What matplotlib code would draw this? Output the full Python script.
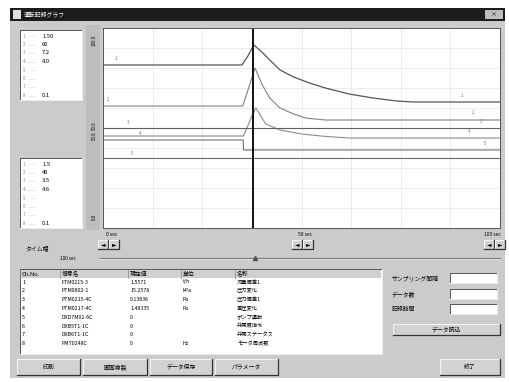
import matplotlib
matplotlib.use("Agg")
import matplotlib.pyplot as plt
from matplotlib.patches import Rectangle

plt.rcParams['font.family'] = ['Noto Sans CJK JP', 'DejaVu Sans']

# ---- chart data (time in sec, value in % of scale) ----
t_a = [0, 35.0, 36.5, 38.0, 40, 42, 44.6, 48, 52, 56, 62, 68, 74, 78, 100]
v_a = [81.5, 81.5, 86, 91.5, 88, 84, 79, 75.5, 72.5, 70, 67, 65, 63.5, 63, 63]
t_b = [0, 35.2, 37.0, 38.3, 40, 42, 44.6, 48, 51, 56, 100]
v_b = [61, 61, 72, 80, 72, 65, 60, 57, 55, 54, 54]
t_c = [0, 35.4, 37.5, 38.5, 41, 44.6, 50, 56, 62, 100]
v_c = [46, 46, 56, 60, 52, 49, 47, 45.8, 45, 45]
t_d = [0, 35.3, 35.4, 100]
v_d = [44, 44, 39, 39]
t_e = [0, 100]
v_e = [50, 50]
t_f = [0, 100]
v_f = [35, 35]
cursor_t = 37.8

# ---- table data ----
ch_no = ["1", "2", "3", "4", "5", "6", "7", "8"]
tags = ["FTM0215-3", "PTM0802-1", "PTM0215-4C", "PTM0217-4C",
        "DXD7M02-6C", "DXB5T1-1C", "DXB6T1-1C", "PMT0248C"]
values = ["1.5571", "15.2578", "0.13836", "1.48335", "0", "0", "0", "0"]
units = ["t/h", "kPa", "Pa", "Pa", "", "", "", "Hz"]
names = ["流量偏差1", "圧力変化", "圧力偏差1", "差圧変化",
         "ポンプ運転", "弁開度指令", "弁開ステータス", "モータ周波数"]
headers = ["Ch.No.", "信号名", "現在値", "単位", "名称"]

scale_up = ["1.50", "60", "7.2", "4.0", "", "", "", "0.1"]
scale_lo = ["1.5", "40", "3.5", "4.6", "", "", "", "0.1"]
buttons = ["印刷", "画面複製", "データ保存", "パラメータ"]

W, H = 510, 382
fig = plt.figure(figsize=(W / 100, H / 100), dpi=100)
bg = fig.add_axes([0, 0, 1, 1])
bg.set_xlim(0, W)
bg.set_ylim(H, 0)
bg.axis('off')

GRAY = '#cbcbcb'
FS = 4.2


def rect(x, y, w, h, fc, ec='none', lw=0.6, z=1):
    bg.add_patch(Rectangle((x, y), w, h, fc=fc, ec=ec, lw=lw, zorder=z))


def sunken(x, y, w, h, fc='white'):
    rect(x, y, w, h, fc, z=2)
    bg.plot([x, x, x + w], [y + h, y, y], color='#555555', lw=0.7, zorder=3)
    bg.plot([x, x + w, x + w], [y + h, y + h, y], color='#f0f0f0', lw=0.7, zorder=3)


def button(x, y, w, h, label):
    rect(x, y, w, h, '#d2d2d2', z=2)
    bg.plot([x, x, x + w], [y + h, y, y], color='#f4f4f4', lw=0.8, zorder=3)
    bg.plot([x, x + w, x + w], [y + h, y + h, y], color='#333333', lw=0.9, zorder=3)
    bg.text(x + w / 2, y + h / 2, label, ha='center', va='center', fontsize=FS, zorder=4)


# window
rect(10, 8, 495, 370, GRAY, z=0)
rect(10, 8, 495, 13, '#1c1c1c', z=1)
rect(13, 10, 8, 9, '#e0e0e0', z=2)
bg.text(24, 14.5, "運転記録グラフ", color='white', fontsize=FS, va='center', zorder=3)
rect(485, 10, 18, 9, '#bdbdbd', z=2)
bg.text(494, 14.5, "×", fontsize=FS, ha='center', va='center', zorder=3)

# left scale panels
for y0, lab in [(30, scale_up), (158, scale_lo)]:
    sunken(20, y0, 62, 70)
    for i, s in enumerate(lab):
        yy = y0 + 6 + i * 8.5
        bg.text(23, yy, str(i + 1), fontsize=3.2, color='#888888', va='center', zorder=4)
        bg.plot([28, 36], [yy, yy], color='#dddddd', lw=0.4, zorder=3)
        bg.text(42, yy, s, fontsize=FS, va='center', zorder=4)

# y-label strip
rect(86, 25, 14, 205, '#bdbdbd', z=1)
for yy, s in [(40, "100.0"), (126, "50.0"), (136, "50.0"), (217, "0.0")]:
    bg.text(94, yy, s, fontsize=3.2, rotation=90, ha='center', va='center', zorder=3)

# chart axes
ax = fig.add_axes([103 / W, (H - 228) / H, 397 / W, 200 / H])
ax.set_xlim(0, 100)
ax.set_ylim(0, 100)
ax.set_xticks([12.5 * k for k in range(1, 8)])
ax.set_yticks(range(10, 100, 10))
ax.grid(True, color='#e4e4e4', lw=0.5)
ax.tick_params(length=0, labelbottom=False, labelleft=False)
for sp in ax.spines.values():
    sp.set_color('#555555')
    sp.set_linewidth(0.7)

ax.plot(t_a, v_a, color='#555555', lw=0.9)
ax.plot(t_b, v_b, color='#808080', lw=0.8)
ax.plot(t_c, v_c, color='#8a8a8a', lw=0.8)
ax.plot(t_d, v_d, color='#707070', lw=0.8)
ax.plot(t_e, v_e, color='#606060', lw=0.8)
ax.plot(t_f, v_f, color='#6a6a6a', lw=0.8)
ax.axvline(cursor_t, color='#111111', lw=1.4)
for tx, vy, s in [(3, 84, "1"), (1, 63.5, "2"), (6, 52, "3"), (9, 46.5, "4"), (7, 36.5, "5"),
                  (90, 65.5, "1"), (93, 57, "2"), (95, 52.5, "3"), (92, 47.5, "4"), (96, 41.5, "5")]:
    ax.text(tx, vy, s, fontsize=3.2, color='#777777')

# time labels and nav buttons
for xc, s in [(112, "0 sec"), (305, "50 sec"), (492, "100 sec")]:
    bg.text(xc, 235, s, fontsize=3.6, ha='center', va='center')
for x0 in [98, 292, 484]:
    button(x0, 240, 10, 9, "◄")
    button(x0 + 11, 240, 10, 9, "►")
bg.text(25, 248, "タイム幅", fontsize=FS, va='center')
bg.text(60, 258, "100 sec", fontsize=3.4, va='center')
bg.plot([100, 500], [258, 258], color='#777777', lw=0.8)
bg.plot([100, 500], [259.2, 259.2], color='#eeeeee', lw=0.5)
bg.plot([255], [258], marker='^', color='#555555', ms=3)

# table
sunken(20, 269, 362, 85)
rect(21, 270, 360, 8, '#d0d0d0', z=3)
hx = [22, 62, 130, 183, 237]
for x0, s in zip(hx, headers):
    bg.text(x0, 274, s, fontsize=FS, va='center', zorder=4)
    bg.plot([x0 - 2, x0 - 2], [270, 278], color='#888888', lw=0.5, zorder=4)
for i in range(len(ch_no)):
    yy = 282 + i * 8.8
    row = [ch_no[i], tags[i], values[i], units[i], names[i]]
    for x0, s in zip(hx, row):
        bg.text(x0, yy, s, fontsize=3.8, va='center', zorder=4)

# right panel
for yy, s in [(278, "サンプリング間隔"), (294, "データ数"), (309, "記録時間")]:
    bg.text(392, yy, s, fontsize=FS, va='center')
    sunken(450, yy - 5, 47, 10)
button(393, 324, 107, 11, "データ読込")

# bottom buttons
for (x0, w), s in zip([(17, 63), (83, 64), (150, 62), (215, 63)], buttons):
    button(x0, 359, w, 16, s)
button(440, 359, 60, 16, "終了")

fig.savefig("out.png", dpi=100)
